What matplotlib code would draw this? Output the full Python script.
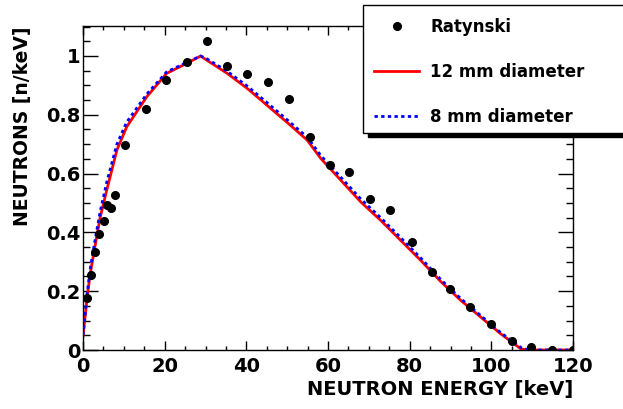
import matplotlib
matplotlib.use("Agg")
import matplotlib.pyplot as plt
from matplotlib.patches import Rectangle
from matplotlib.ticker import MultipleLocator

plt.rcParams['font.family'] = ['DejaVu Sans']
plt.rcParams['font.weight'] = 'bold'

# Ratynski data points
rat_x = [1.0, 1.9, 3.0, 4.0, 5.1, 5.9, 6.8, 7.8, 10.4, 15.5, 20.4, 25.4, 30.3, 35.3,
         40.2, 45.3, 50.4, 55.5, 60.4, 65.2, 70.2, 75.3, 80.5, 85.4, 89.9, 94.8,
         100.0, 105.1, 109.8, 114.8, 120.0]
rat_y = [0.176, 0.256, 0.335, 0.394, 0.44, 0.492, 0.484, 0.526, 0.697, 0.818, 0.92,
         0.979, 1.051, 0.966, 0.938, 0.912, 0.855, 0.724, 0.629, 0.604, 0.514, 0.475,
         0.366, 0.264, 0.207, 0.146, 0.09, 0.032, 0.009, 0.001, 0.0]

# 12 mm diameter curve
d12_x = [0.0, 1.0, 1.7, 2.9, 4.2, 5.8, 8.3, 10.7, 15.6, 20.5, 25.4, 28.8, 30.4, 35.3,
         40.2, 45.1, 50.0, 54.9, 58.2, 63.1, 68.0, 72.9, 77.8, 82.7, 87.6, 92.5,
         97.4, 102.3, 105.6, 107.2, 108.9, 120.0]
d12_y = [0.046, 0.176, 0.254, 0.35, 0.45, 0.543, 0.68, 0.759, 0.861, 0.941, 0.975, 1.0,
         0.985, 0.941, 0.89, 0.832, 0.774, 0.714, 0.652, 0.578, 0.504, 0.441, 0.373,
         0.305, 0.233, 0.169, 0.112, 0.055, 0.021, 0.004, 0.0, 0.0]

# 8 mm diameter curve
d8_x = [0.0, 1.0, 1.7, 2.9, 4.2, 5.8, 8.3, 10.7, 15.6, 20.5, 25.4, 28.8, 30.4, 35.3,
        40.2, 45.1, 50.0, 54.9, 58.2, 63.1, 68.0, 72.9, 77.8, 82.7, 87.6, 92.5,
        97.4, 102.3, 105.6, 107.5, 109.5, 120.0]
d8_y = [0.05, 0.19, 0.27, 0.37, 0.47, 0.57, 0.70, 0.775, 0.87, 0.946, 0.978, 1.0,
        0.99, 0.948, 0.898, 0.841, 0.783, 0.724, 0.662, 0.588, 0.514, 0.450, 0.382,
        0.313, 0.240, 0.175, 0.117, 0.059, 0.025, 0.006, 0.0, 0.0]

XMAX = 120
YMAX = 1.102

fig = plt.figure(figsize=(6.23, 4.09), dpi=100)
ax = fig.add_axes([83/623, 1-350/409, (573-83)/623, (350-26)/409])

l_rat, = ax.plot(rat_x, rat_y, 'o', color='black', markersize=5.5, linestyle='none', zorder=4)
l12, = ax.plot(d12_x, d12_y, '-', color='#ff0000', lw=2.0, zorder=2)
l8, = ax.plot(d8_x, d8_y, ':', color='#0000ff', lw=2.0, zorder=3, dashes=(1.2, 1.2))
ax.axhline(0, color='#ff0000', lw=0.7, zorder=1)
ax.axvline(XMAX, color='#ff4040', lw=0.8, zorder=1)

ax.set_xlim(0, XMAX)
ax.set_ylim(0, YMAX)
ax.xaxis.set_major_locator(MultipleLocator(20))
ax.xaxis.set_minor_locator(MultipleLocator(5))
ax.yaxis.set_minor_locator(MultipleLocator(0.05))
ax.set_yticks([0, 0.2, 0.4, 0.6, 0.8, 1.0])
ax.set_yticklabels(['0', '0.2', '0.4', '0.6', '0.8', '1'])

ax.tick_params(axis='x', which='major', direction='in', length=6.5, width=1, top=True,
               labelsize=14, pad=5)
ax.tick_params(axis='x', which='minor', direction='in', length=3.2, width=1, top=True)
ax.tick_params(axis='y', which='major', direction='in', length=10.5, width=1, right=True,
               labelsize=14, pad=2)
ax.tick_params(axis='y', which='minor', direction='in', length=5, width=1, right=True)
for lab in ax.get_xticklabels() + ax.get_yticklabels():
    lab.set_fontweight('bold')
for s in ax.spines.values():
    s.set_linewidth(1.0)

ax.set_xlabel('NEUTRON ENERGY [keV]', fontsize=14, fontweight='bold', loc='right', labelpad=3)
ax.set_ylabel('NEUTRONS [n/keV]', fontsize=13.5, fontweight='bold', loc='top', labelpad=10)

# legend box with shadow
px_w, px_h = 623.0, 409.0
shadow = Rectangle(((363+5)/px_w, 1-(133+3.5)/px_h), 300/px_w, 128/px_h,
                   transform=fig.transFigure, facecolor='black', edgecolor='black',
                   zorder=4)
box = Rectangle((363/px_w, 1-133/px_h), 300/px_w, 128/px_h,
                transform=fig.transFigure, facecolor='white', edgecolor='black',
                lw=1.0, zorder=5)
fig.patches.extend([shadow, box])

leg = fig.legend([l_rat, l12, l8], ['Ratynski', '12 mm diameter', '8 mm diameter'],
                 loc='upper left', bbox_to_anchor=(361/px_w, 1-5/px_h),
                 frameon=False, handlelength=2.7, handletextpad=0.65,
                 labelspacing=1.6, borderpad=0.3, prop={'weight': 'bold', 'size': 12})
leg.set_zorder(6)

fig.savefig('out.png', dpi=100)
